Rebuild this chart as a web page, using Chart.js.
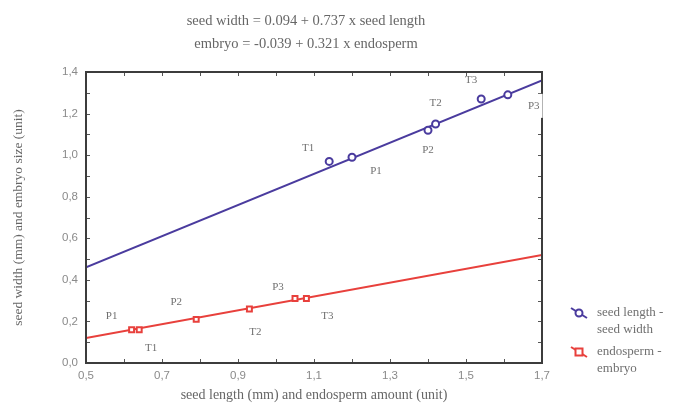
<!DOCTYPE html>
<html>
<head>
<meta charset="utf-8">
<script src="https://cdn.jsdelivr.net/npm/chart.js@4"></script>
<style>
  html, body { margin: 0; padding: 0; background: #fff; }
  #wrap { width: 675px; height: 412px; position: relative; }
</style>
</head>
<body>
<div id="wrap"><canvas id="chart"></canvas></div>
<script>
// ── Data ──────────────────────────────────────────────
const seedLength  = [1.14, 1.20, 1.40, 1.42, 1.54, 1.61];
const seedWidth   = [0.97, 0.99, 1.12, 1.15, 1.27, 1.29];
const seedLabels  = ['T1', 'P1', 'P2', 'T2', 'T3', 'P3'];

const endosperm   = [0.62, 0.64, 0.79, 0.93, 1.05, 1.08];
const embryo      = [0.16, 0.16, 0.21, 0.26, 0.31, 0.31];
const endoLabels  = ['P1', 'T1', 'P2', 'T2', 'P3', 'T3'];

const widthFitX   = [0.5, 1.7];
const widthFitY   = [0.46, 1.36];
const embryoFitX  = [0.5, 1.7];
const embryoFitY  = [0.12, 0.52];

const xTickValues = [0.5, 0.7, 0.9, 1.1, 1.3, 1.5, 1.7];
const yTickValues = [0.0, 0.2, 0.4, 0.6, 0.8, 1.0, 1.2, 1.4];

const titleLines  = [
  'seed width = 0.094 + 0.737 x seed length',
  'embryo = -0.039 + 0.321 x endosperm'
];
const legendItems = [
  ['seed length -', 'seed width'],
  ['endosperm -', 'embryo']
];

// ── Styling ───────────────────────────────────────────
const BLUE  = '#4a3b9e';
const RED   = '#e8403c';
const SERIF = '"Liberation Serif", "DejaVu Serif", serif';
const SANS  = '"Liberation Sans", Arial, sans-serif';

// pixel offsets of the T/P labels from their points; P3 sits over the frame
const seedLabelOffsets = [[-21, -13], [24, 14], [0, 20], [0, -21], [-10, -19], [26, 11]];
const endoLabelOffsets = [[-20, -14], [12, 18], [-20, -17], [6, 23], [-17, -11], [21, 18]];
const seedLabelMask    = [false, false, false, false, false, true];

const toPts = (xs, ys) => xs.map((x, i) => ({ x, y: ys[i] }));
const comma = v => Number(v).toFixed(1).replace('.', ',');

// ── Frame, inner ticks, labels, titles, legend ────────
const decorations = {
  id: 'decorations',
  afterDatasetsDraw(chart) {
    const { ctx, chartArea: a, scales: { x, y } } = chart;
    ctx.save();

    // inward ticks every 0.1 on all four sides
    ctx.strokeStyle = '#555';
    ctx.lineWidth = 1;
    for (let v = x.min; v <= x.max + 1e-9; v += 0.1) {
      const px = Math.round(x.getPixelForValue(v)) + 0.5;
      ctx.beginPath();
      ctx.moveTo(px, a.bottom); ctx.lineTo(px, a.bottom - 4);
      ctx.moveTo(px, a.top);    ctx.lineTo(px, a.top + 4);
      ctx.stroke();
    }
    for (let v = y.min; v <= y.max + 1e-9; v += 0.1) {
      const py = Math.round(y.getPixelForValue(v)) + 0.5;
      ctx.beginPath();
      ctx.moveTo(a.left, py);  ctx.lineTo(a.left + 4, py);
      ctx.moveTo(a.right, py); ctx.lineTo(a.right - 4, py);
      ctx.stroke();
    }

    // box frame
    ctx.strokeStyle = '#3c3c3c';
    ctx.lineWidth = 2;
    ctx.strokeRect(a.left, a.top, a.right - a.left, a.bottom - a.top);

    // point labels
    ctx.font = '11px ' + SERIF;
    ctx.textAlign = 'center';
    ctx.textBaseline = 'middle';
    const drawLabels = (dsIndex, labels, offsets, mask) => {
      chart.getDatasetMeta(dsIndex).data.forEach((pt, i) => {
        const lx = pt.x + offsets[i][0];
        const ly = pt.y + offsets[i][1];
        if (mask && mask[i]) {
          const w = ctx.measureText(labels[i]).width;
          ctx.fillStyle = '#fff';
          ctx.fillRect(lx - w / 2 - 3, ly - 12, w + 6, 24);
        }
        ctx.fillStyle = '#707070';
        ctx.fillText(labels[i], lx, ly);
      });
    };
    drawLabels(2, seedLabels, seedLabelOffsets, seedLabelMask);
    drawLabels(3, endoLabels, endoLabelOffsets, null);

    // equations on top
    ctx.font = '14.5px ' + SERIF;
    ctx.fillStyle = '#666';
    titleLines.forEach((t, i) => ctx.fillText(t, 306, 21 + i * 23));

    // legend
    const legendRows = [
      { y: 313, color: BLUE, style: 'circle' },
      { y: 352, color: RED,  style: 'rect' }
    ];
    ctx.textAlign = 'left';
    ctx.font = '13px ' + SERIF;
    legendRows.forEach((row, i) => {
      const cx = 579, cy = row.y;
      ctx.strokeStyle = row.color;
      ctx.lineWidth = 2;
      ctx.beginPath();
      ctx.moveTo(cx - 8, cy - 5); ctx.lineTo(cx + 8, cy + 5);
      ctx.stroke();
      ctx.fillStyle = '#fff';
      ctx.beginPath();
      if (row.style === 'circle') {
        ctx.arc(cx, cy, 3.5, 0, Math.PI * 2);
      } else {
        ctx.rect(cx - 3.5, cy - 3.5, 7, 7);
      }
      ctx.fill();
      ctx.stroke();
      ctx.fillStyle = '#707070';
      ctx.fillText(legendItems[i][0], 597, cy);
      ctx.fillText(legendItems[i][1], 597, cy + 17);
    });

    ctx.restore();
  }
};

// ── Chart ─────────────────────────────────────────────
new Chart(document.getElementById('chart'), {
  type: 'scatter',
  data: {
    datasets: [
      {
        type: 'line',
        data: toPts(widthFitX, widthFitY),
        borderColor: BLUE,
        borderWidth: 2,
        pointRadius: 0,
        order: 3,
      },
      {
        type: 'line',
        data: toPts(embryoFitX, embryoFitY),
        borderColor: RED,
        borderWidth: 2,
        pointRadius: 0,
        order: 3,
      },
      {
        label: 'seed length - seed width',
        data: toPts(seedLength, seedWidth),
        pointStyle: 'circle',
        pointRadius: 3.5,
        borderWidth: 2,
        borderColor: BLUE,
        backgroundColor: '#fff',
        order: 1,
      },
      {
        label: 'endosperm - embryo',
        data: toPts(endosperm, embryo),
        pointStyle: 'rect',
        pointRadius: 3.5,
        borderWidth: 2,
        borderColor: RED,
        backgroundColor: '#fff',
        order: 1,
      },
    ],
  },
  options: {
    responsive: true,
    maintainAspectRatio: false,
    animation: false,
    layout: { padding: { top: 72, right: 133, left: 0, bottom: 0 } },
    plugins: {
      legend: { display: false },
      tooltip: { enabled: false },
    },
    scales: {
      x: {
        type: 'linear',
        min: 0.5,
        max: 1.7,
        afterBuildTicks: s => { s.ticks = xTickValues.map(value => ({ value })); },
        afterFit: s => { s.height = 49; },
        grid: { display: false, drawTicks: false },
        border: { display: false },
        ticks: {
          color: '#8a8a8a',
          font: { family: SANS, size: 11.5 },
          padding: 6,
          callback: comma,
        },
        title: {
          display: true,
          text: 'seed length (mm) and endosperm amount (unit)',
          color: '#666',
          font: { family: SERIF, size: 14 },
          padding: { top: 0, bottom: 8 },
        },
      },
      y: {
        type: 'linear',
        min: 0,
        max: 1.4,
        afterBuildTicks: s => { s.ticks = yTickValues.map(value => ({ value })); },
        afterFit: s => { s.width = 86; },
        grid: { display: false, drawTicks: false },
        border: { display: false },
        ticks: {
          color: '#8a8a8a',
          font: { family: SANS, size: 11.5 },
          padding: 8,
          callback: comma,
        },
        title: {
          display: true,
          text: 'seed width (mm) and embryo size (unit)',
          color: '#666',
          font: { family: SERIF, size: 13.5 },
          padding: { top: 10, bottom: 0 },
        },
      },
    },
  },
  plugins: [decorations],
});
</script>
</body>
</html>
